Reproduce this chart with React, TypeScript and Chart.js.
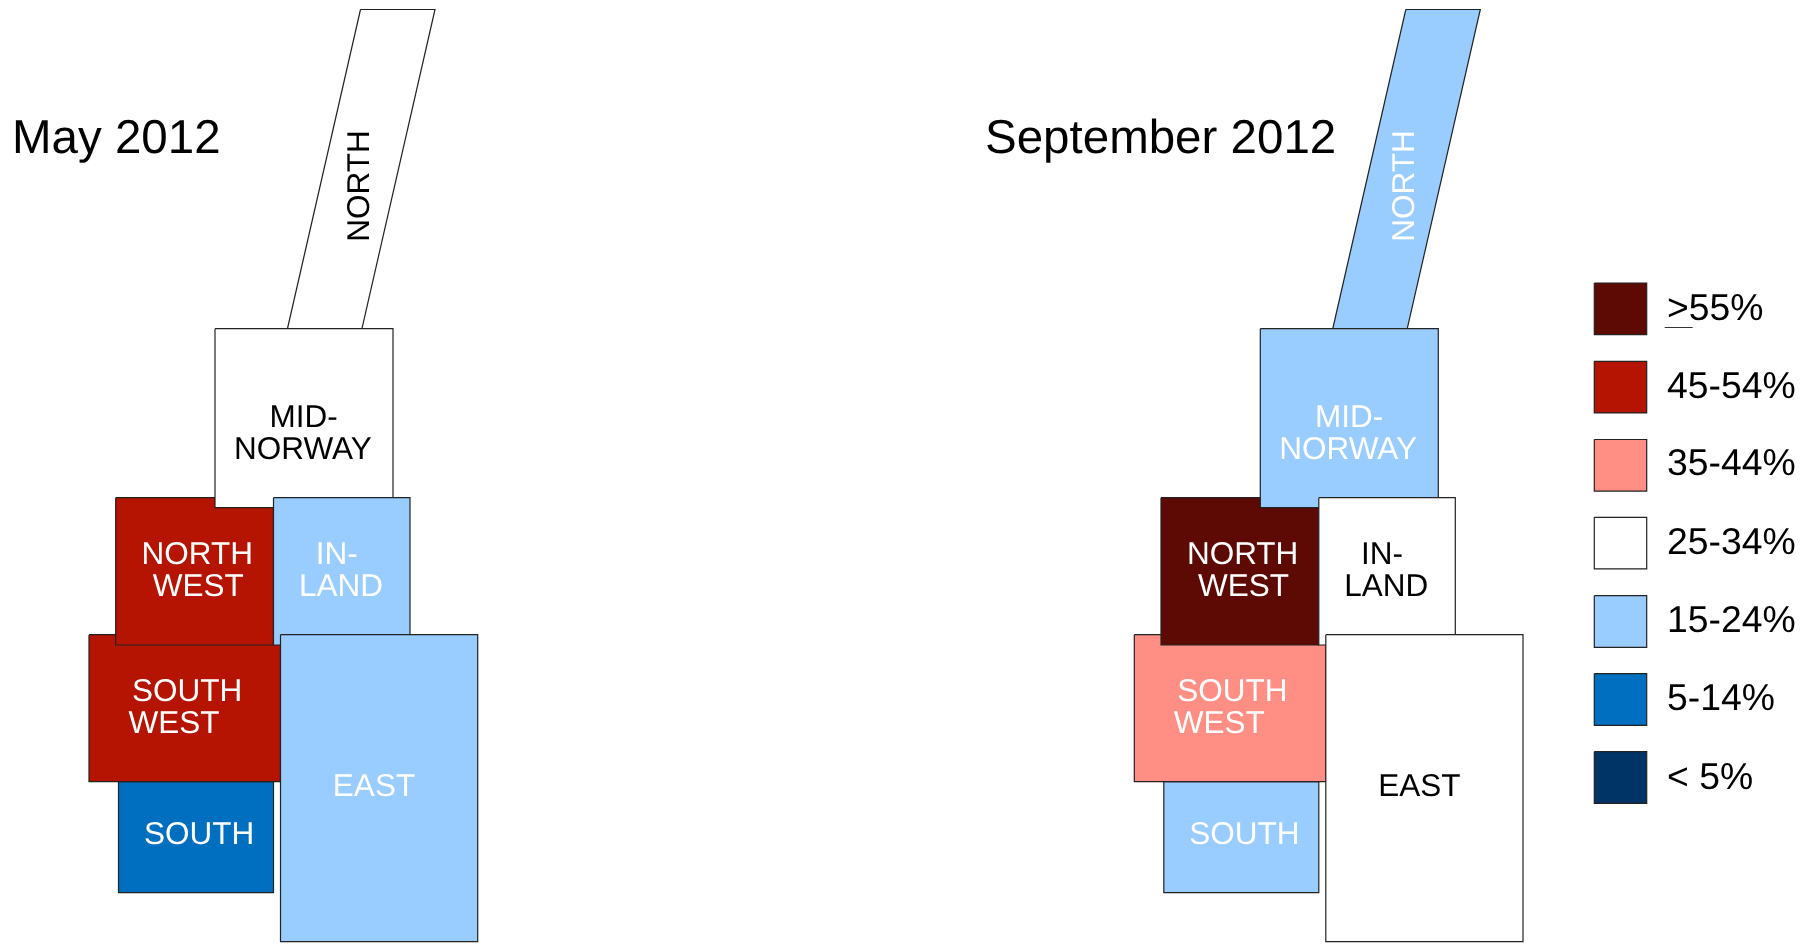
import React, { useEffect, useRef } from "react";
import { Chart, registerables } from "chart.js";

Chart.register(...registerables);

// ---- Data ----
const bandLabels = [">55%", "45-54%", "35-44%", "25-34%", "15-24%", "5-14%", "< 5%"];
const bandColors = ["#5C0A03", "#B51402", "#FF8F85", "#FFFFFF", "#99CCFF", "#006FBF", "#003366"];

// Drawing order, back to front
const regionNames = ["NORTH", "SOUTH", "SOUTH WEST", "NORTH WEST", "MID-NORWAY", "IN-LAND", "EAST"];
const mayBands = ["25-34%", "5-14%", "45-54%", "45-54%", "25-34%", "15-24%", "15-24%"];
const septBands = ["15-24%", "15-24%", "35-44%", ">55%", "15-24%", "25-34%", "25-34%"];

// Outline of each cartogram cell, on the map's own grid
const regionXs = [
  [360.5, 435, 362, 287.5],
  [118.5, 273.5, 273.5, 118.5],
  [89, 280.5, 280.5, 89],
  [115.7, 273.5, 273.5, 115.7],
  [215, 393, 393, 215],
  [273.5, 410, 410, 273.5],
  [280.5, 477.7, 477.7, 280.5],
];
const regionYs = [
  [9.5, 9.5, 328.5, 328.5],
  [781.7, 781.7, 892.7, 892.7],
  [634.7, 634.7, 781.7, 781.7],
  [497.7, 497.7, 645, 645],
  [328.7, 328.7, 507.7, 507.7],
  [497.7, 497.7, 645, 645],
  [634.7, 634.7, 941.7, 941.7],
];

const regionLabelLines = [["NORTH"], ["SOUTH"], ["SOUTH", "WEST"], ["NORTH", "WEST"], ["MID-", "NORWAY"], ["IN-", "LAND"], ["EAST"]];
const regionLabelXs = [[369], [199], [187, 174], [197.3, 198.3], [303.7, 302.8], [336.7, 341], [374]];
const regionLabelYs = [[186], [843.7], [701, 732.7], [564, 595.7], [426.7, 459], [564, 595.7], [795.7]];

const panelTitles = ["May 2012", "September 2012"];
const panelTitleXs = [12, -60.3];
const panelOffset = 1045.3;

const swatchLeft = 1594.3;
const swatchRight = 1646.7;
const swatchTops = [283, 361.3, 439.5, 517.3, 595.7, 673.7, 751.7];
const swatchSize = 51.6;
const legendLabelBaselines = [319.5, 397.5, 475, 554, 632, 710, 788.5];

const W = 1809;
const H = 944;
const FONT = '"Liberation Sans", Arial, sans-serif';

function polygon(xs: number[], ys: number[]) {
  const pts = xs.map((x, i) => ({ x, y: ys[i] }));
  pts.push({ ...pts[0] });
  return pts;
}

function shapeDataset(label: string, data: any[], color: string, xAxisID: string) {
  return {
    label,
    data,
    xAxisID,
    yAxisID: "y",
    backgroundColor: color,
    borderColor: "#222222",
    borderWidth: 1.2,
    borderJoinStyle: "miter",
    fill: "shape",
    showLine: true,
    tension: 0,
    pointRadius: 0,
    clip: false,
  };
}

const colorOf = (band: string) => bandColors[bandLabels.indexOf(band)];

const textPlugin = {
  id: "cartogramText",
  afterDatasetsDraw(chart: any) {
    const { ctx, scales } = chart;
    const panels = [
      { x: scales.x, bands: mayBands },
      { x: scales.x2, bands: septBands },
    ];
    ctx.save();
    ctx.textBaseline = "alphabetic";
    ctx.textRendering = "geometricPrecision";
    panels.forEach((panel, p) => {
      ctx.font = `47.5px ${FONT}`;
      ctx.textAlign = "left";
      ctx.fillStyle = "#000";
      ctx.fillText(panelTitles[p], panel.x.getPixelForValue(panelTitleXs[p]), scales.y.getPixelForValue(153));

      ctx.font = `31.5px ${FONT}`;
      ctx.textAlign = "center";
      regionLabelLines.forEach((lines, r) => {
        ctx.fillStyle = panel.bands[r] === "25-34%" ? "#000" : "#FFF";
        lines.forEach((line, l) => {
          const px = panel.x.getPixelForValue(regionLabelXs[r][l]);
          const py = scales.y.getPixelForValue(regionLabelYs[r][l]);
          if (regionNames[r] === "NORTH") {
            ctx.save();
            ctx.translate(px, py);
            ctx.rotate(-Math.PI / 2);
            ctx.fillText(line, 0, 0);
            ctx.restore();
          } else {
            ctx.fillText(line, px, py);
          }
        });
      });
    });
    ctx.font = `37.33px ${FONT}`;
    ctx.textAlign = "left";
    ctx.fillStyle = "#000";
    bandLabels.forEach((label, i) => {
      ctx.fillText(label, scales.x.getPixelForValue(1667), scales.y.getPixelForValue(legendLabelBaselines[i]));
    });
    ctx.restore();
  },
};

export default function App() {
  const ref = useRef<HTMLCanvasElement>(null);
  useEffect(() => {
    const datasets: any[] = [];
    regionNames.forEach((name, i) => {
      datasets.push(shapeDataset(`May ${name}`, polygon(regionXs[i], regionYs[i]), colorOf(mayBands[i]), "x"));
    });
    regionNames.forEach((name, i) => {
      datasets.push(shapeDataset(`Sep ${name}`, polygon(regionXs[i], regionYs[i]), colorOf(septBands[i]), "x2"));
    });
    bandLabels.forEach((label, i) => {
      const t = swatchTops[i];
      const b = t + swatchSize;
      datasets.push(
        shapeDataset(label, polygon([swatchLeft, swatchRight, swatchRight, swatchLeft], [t, t, b, b]), bandColors[i], "x")
      );
    });
    datasets.push({
      label: "underline",
      data: [
        { x: 1664.7, y: 327.5 },
        { x: 1692.7, y: 327.5 },
      ],
      xAxisID: "x",
      yAxisID: "y",
      borderColor: "#333",
      borderWidth: 1,
      showLine: true,
      pointRadius: 0,
      fill: false,
      clip: false,
    });
    datasets.forEach((d, i) => {
      d.order = datasets.length - i;
    });

    const chart = new Chart(ref.current as HTMLCanvasElement, {
      type: "line",
      data: { datasets },
      options: {
        animation: false,
        responsive: false,
        events: [],
        layout: { padding: 0 },
        plugins: { legend: { display: false }, tooltip: { enabled: false }, title: { display: false } },
        scales: {
          x: { type: "linear", display: false, min: 0, max: W },
          x2: { type: "linear", display: false, min: -panelOffset, max: W - panelOffset },
          y: { type: "linear", display: false, min: 0, max: H, reverse: true },
        },
      },
      plugins: [textPlugin],
    } as any);
    return () => chart.destroy();
  }, []);

  return (
    <div style={{ position: "absolute", left: 0, top: 0, width: W, height: H, background: "#fff", overflow: "hidden" }}>
      <canvas ref={ref} width={W} height={H} style={{ display: "block", width: W, height: H }} />
    </div>
  );
}
